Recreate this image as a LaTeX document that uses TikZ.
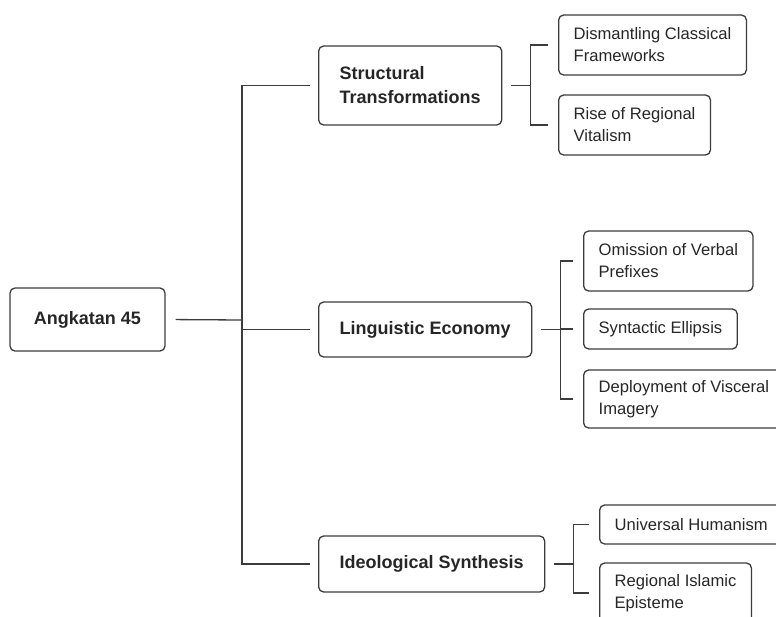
\documentclass[tikz,border=0pt]{standalone}
\usepackage{fontspec}
\setmainfont{Liberation Sans}
\usetikzlibrary{positioning}
\definecolor{inkgray}{HTML}{3C3C3C}
\definecolor{textgray}{HTML}{262626}
\tikzset{
    root/.style={
        rectangle,
        rounded corners=5pt,
        draw=inkgray,
        line width=1.3pt,
        text=textgray,
        font=\fontsize{18}{24}\selectfont\bfseries,
        inner xsep=23pt,
        minimum width=155pt,
        minimum height=63pt,
    },
    branch/.style={
        rectangle,
        rounded corners=5pt,
        draw=inkgray,
        line width=1.3pt,
        text=textgray,
        font=\fontsize{18}{24}\selectfont\bfseries,
        inner xsep=21pt,
        align=left,
        anchor=west,
    },
    leaf/.style={
        rectangle,
        rounded corners=5pt,
        draw=inkgray,
        line width=1.3pt,
        text=textgray,
        font=\fontsize{16.6}{22}\selectfont,
        inner xsep=15pt,
        align=left,
        anchor=west,
    },
    link/.style={
        draw=inkgray,
        line width=1.3pt,
    },
}

\begin{document}
\begin{tikzpicture}[x=1pt,y=-1pt]
    \path[use as bounding box, clip] (0,0) rectangle (776,616);
    % root and main branches
    \node [root] (root) at (87.5,319.5) {Angkatan 45};
    \node [branch, minimum height=79pt] (struct) at (318,85.5) {Structural\\Transformations};
    \node [branch, minimum height=55pt] (ling) at (318,329.5) {Linguistic Economy};
    \node [branch, minimum height=56pt] (ideo) at (318,564) {Ideological Synthesis};
    % leaves
    \node [leaf, minimum height=60pt] (dism) at (558,45) {Dismantling Classical\\Frameworks};
    \node [leaf, minimum height=60pt] (rise) at (558,125) {Rise of Regional\\Vitalism};
    \node [leaf, minimum height=60pt] (omis) at (583,261) {Omission of Verbal\\Prefixes};
    \node [leaf, minimum height=40pt] (synt) at (583,329) {Syntactic Ellipsis};
    \node [leaf, minimum height=58pt] (depl) at (583,399) {Deployment of Visceral\\Imagery};
    \node [leaf, minimum height=39pt] (univ) at (599,524.5) {Universal Humanism};
    \node [leaf, minimum height=60pt] (isla) at (599,593) {Regional Islamic\\Episteme};
    % trunk
    \coordinate (trunk) at (242,320);
    \draw [link, shorten <=10pt] (root.east) -- (trunk);
    \foreach \b in {struct,ling,ideo}
        \draw [link, shorten >=8pt] (trunk) |- (\b.west);
    % brackets
    \draw [link, shorten <=9pt] (struct.east) -- ++(28,0) coordinate (sbar);
    \draw [link, shorten <=9pt] (ling.east) -- ++(28,0) coordinate (lbar);
    \draw [link, shorten <=9pt] (ideo.east) -- ++(28,0) coordinate (ibar);
    \foreach \c in {dism,rise}
        \draw [link, shorten >=10pt] (sbar) |- (\c.west);
    \foreach \c in {omis,synt,depl}
        \draw [link, shorten >=10pt] (lbar) |- (\c.west);
    \foreach \c in {univ,isla}
        \draw [link, shorten >=10pt] (ibar) |- (\c.west);
\end{tikzpicture}
\end{document}
